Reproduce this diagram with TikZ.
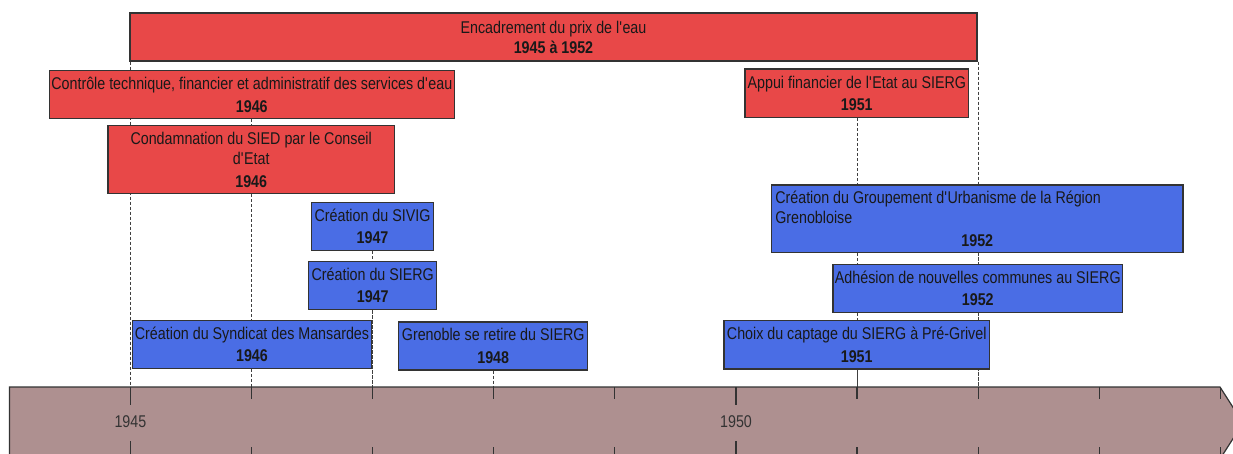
\documentclass[tikz,border=0pt]{standalone}
\usepackage{fontspec}
\setmainfont{Liberation Sans}[FakeStretch=0.84]
\usetikzlibrary{backgrounds}
\definecolor{evtred}{HTML}{E84848}
\definecolor{evtblue}{HTML}{4A6DE5}
\definecolor{bandrose}{HTML}{AE9090}
\definecolor{edgegray}{HTML}{333333}
\newcommand\apos{\textquotesingle}

\begin{document}
\begin{tikzpicture}[
  x=1pt, y=-1pt,
  evt/.style={rectangle, draw=edgegray, line width=1.2pt, fill=#1,
              align=center, inner sep=1.5pt, text=black!90,
              font=\fontsize{17}{20}\selectfont},
  guide/.style={dash pattern=on 3pt off 2pt, line width=0.8pt, black!75},
  tickmark/.style={line width=1.2pt, edgegray},
  yearlbl/.style={font=\fontsize{17}{20}\selectfont, text=edgegray}
]

% === Frame ===
\useasboundingbox (0,0) rectangle (1233,454);
\begin{scope}[on background layer]
  \fill[white] (0,0) rectangle (1233,454);
\end{scope}

% === Time band (one year = 121.1 px, 1945 at x = 130.4) ===
\draw[draw=edgegray, line width=1.2pt, fill=bandrose]
  (9.5,387) -- (1220,387) -- (1243,423) -- (1220,459) -- (9.5,459) -- cycle;

\foreach \yr [count=\i from 0] in {1945,...,1954} {
  \coordinate (t\yr) at ({130.4+121.1*\i},387);
  \pgfmathsetmacro\tl{mod(\yr,5)==0 ? 18 : 12}
  \draw[tickmark] (t\yr) -- ++(0,\tl);
  \draw[tickmark] (t\yr) ++(0,72) -- ++(0,-\tl);
}
\node[yearlbl] (l1945) at (130.4,422) {1945};
\node[yearlbl] (l1950) at (736,422) {1950};

% === Red events ===
\node[evt=evtred, minimum width=847pt, minimum height=48pt]
  (enc) at (553.5,37) {Encadrement du prix de l\apos eau\\\textbf{1945 à 1952}};
\node[evt=evtred, minimum width=405pt, minimum height=48pt]
  (ctrl) at (251.8,94.8)
  {Contrôle technique, financier et administratif des services d\apos eau\\[2.5pt]\textbf{1946}};
\node[evt=evtred, minimum width=286.6pt, minimum height=68pt]
  (cond) at (251.2,159.8)
  {Condamnation du SIED par le Conseil\\d\apos Etat\\[2.5pt]\textbf{1946}};
\node[evt=evtred, minimum width=223.7pt, minimum height=48.7pt]
  (appui) at (856.8,93.3) {Appui financier de l\apos Etat au SIERG\\[2.5pt]\textbf{1951}};

% === Blue events ===
\node[evt=evtblue, minimum width=122pt, minimum height=48pt]
  (sivig) at (372.5,226.3) {Création du SIVIG\\[2.5pt]\textbf{1947}};
\node[evt=evtblue, minimum width=128pt, minimum height=48pt]
  (sierg) at (372.7,285.2) {Création du SIERG\\[2.5pt]\textbf{1947}};
\node[evt=evtblue, minimum width=239pt, minimum height=47.6pt]
  (mans) at (252,344.5) {Création du Syndicat des Mansardes\\[2.5pt]\textbf{1946}};
\node[evt=evtblue, minimum width=189pt, minimum height=48pt]
  (gren) at (493.2,346) {Grenoble se retire du SIERG\\[2.5pt]\textbf{1948}};
\node[evt=evtblue, minimum width=411.3pt, minimum height=67.7pt]
  (grp) at (977.3,218.8)
  {\parbox{404pt}{\raggedright
   Création du Groupement d\apos Urbanisme de la Région\\Grenobloise\par
   \vspace{2.5pt}\centering\textbf{1952}}};
\node[evt=evtblue, minimum width=289.7pt, minimum height=48pt]
  (adh) at (977.8,288.3) {Adhésion de nouvelles communes au SIERG\\[2.5pt]\textbf{1952}};
\node[evt=evtblue, minimum width=265.4pt, minimum height=48.3pt]
  (choix) at (856.7,344.8) {Choix du captage du SIERG à Pré-Grivel\\[2.5pt]\textbf{1951}};

% === Dashed drop lines from each event to its year ===
\begin{scope}[on background layer]
  \draw[guide] (enc.south -| t1945) -- (t1945);
  \draw[guide] (enc.south -| t1952) -- (t1952);
  \draw[guide] (ctrl.south -| t1946) -- (t1946);
  \draw[guide] (cond.south -| t1946) -- (t1946);
  \draw[guide] (mans.south -| t1946) -- (t1946);
  \draw[guide] (sivig.south -| t1947) -- (t1947);
  \draw[guide] (sierg.south -| t1947) -- (t1947);
  \draw[guide] (gren.south -| t1948) -- (t1948);
  \draw[guide] (appui.south -| t1951) -- (t1951);
  \draw[guide] (choix.south -| t1951) -- (t1951);
  \draw[guide] (grp.south -| t1952) -- (t1952);
  \draw[guide] (adh.south -| t1952) -- (t1952);
\end{scope}

\end{tikzpicture}
\end{document}
